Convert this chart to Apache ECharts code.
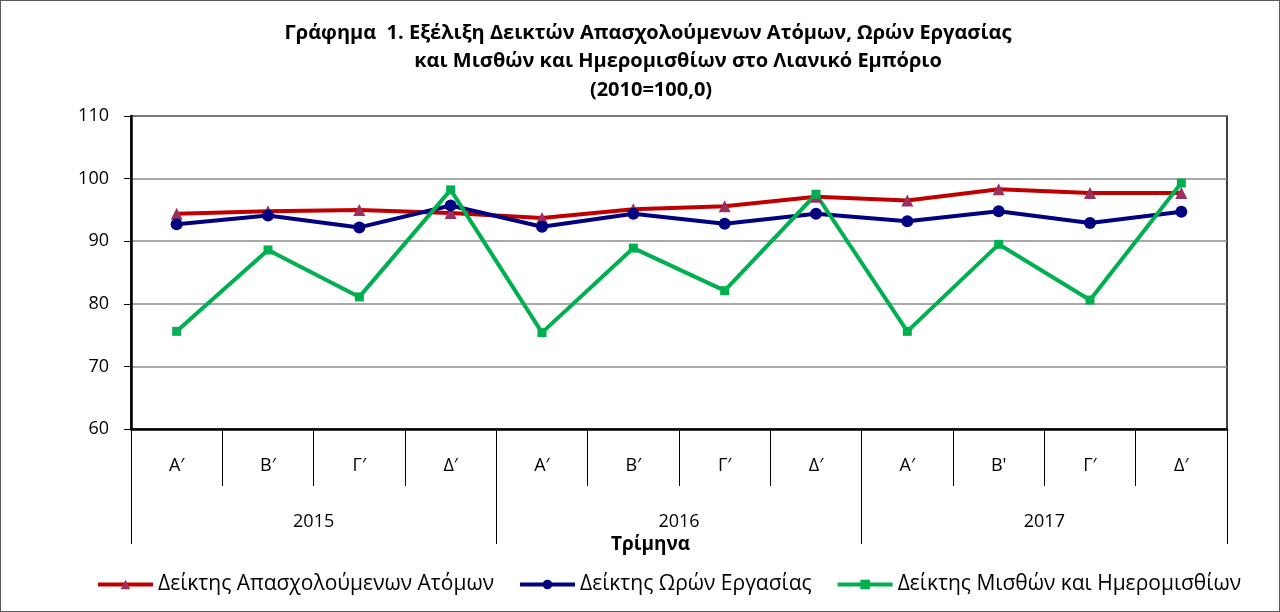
<!DOCTYPE html>
<html>
<head>
<meta charset="utf-8">
<script src="https://cdn.jsdelivr.net/npm/echarts@6/dist/echarts.min.js"></script>
<style>
  html, body { margin: 0; padding: 0; background: #fff; }
  #chart { width: 1280px; height: 612px; box-sizing: border-box; border: 1px solid #595959; }
</style>
</head>
<body>
<div id="chart"></div>
<script>
// τρίμηνα και έτη
const quarters = ['Α′', 'Β′', 'Γ′', 'Δ′', 'Α′', 'Β′', 'Γ′', 'Δ′', 'Α′', "Β'", 'Γ′', 'Δ′'];
const years = ['2015', '2016', '2017'];
const yTicks = [60, 70, 80, 90, 100, 110];

// δείκτες (2010=100,0)
const apasxoloumenoi = [94.4, 94.8, 95.0, 94.5, 93.7, 95.1, 95.6, 97.1, 96.5, 98.3, 97.7, 97.7];
const oresErgasias = [92.7, 94.1, 92.2, 95.7, 92.3, 94.4, 92.8, 94.4, 93.2, 94.8, 92.9, 94.7];
const misthoi = [75.6, 88.6, 81.1, 98.2, 75.4, 88.9, 82.1, 97.5, 75.6, 89.5, 80.6, 99.3];

const FONT = 'Open Sans, sans-serif';

const chart = echarts.init(document.getElementById('chart'));
chart.setOption({
    animation: false,
    textStyle: { fontFamily: FONT, color: '#000' },
    title: [
        { text: 'Γράφημα  1. Εξέλιξη Δεικτών Απασχολούμενων Ατόμων, Ωρών Εργασίας', left: 642, top: 17, textAlign: 'center',
          textStyle: { fontFamily: FONT, fontSize: 20, fontWeight: 'bold', color: '#000' } },
        { text: 'και Μισθών και Ημερομισθίων στο Λιανικό Εμπόριο', left: 672, top: 45, textAlign: 'center',
          textStyle: { fontFamily: FONT, fontSize: 20, fontWeight: 'bold', color: '#000' } },
        { text: '(2010=100,0)', left: 645, top: 74, textAlign: 'center',
          textStyle: { fontFamily: FONT, fontSize: 20, fontWeight: 'bold', color: '#000' } }
    ],
    legend: {
        bottom: 11,
        left: 90,
        itemWidth: 55,
        itemHeight: 12,
        itemGap: 24,
        lineStyle: { width: 4 },
        textStyle: { fontFamily: FONT, fontSize: 21, color: '#000' },
        data: ['Δείκτης Απασχολούμενων Ατόμων', 'Δείκτης Ωρών Εργασίας', 'Δείκτης Μισθών και Ημερομισθίων']
    },
    grid: {
        left: 130, right: 52, top: 115, bottom: 182,
        show: true, borderColor: '#000', borderWidth: 1.5
    },
    xAxis: [
        {
            type: 'category',
            data: quarters,
            boundaryGap: true,
            axisLine: { lineStyle: { color: '#000', width: 2.5 } },
            axisTick: { show: true, interval: 0, length: 57, lineStyle: { color: '#000', width: 1 } },
            axisLabel: { interval: 0, margin: 28, fontSize: 18, color: '#000', fontFamily: FONT }
        },
        {
            type: 'category',
            data: years,
            position: 'bottom',
            boundaryGap: true,
            axisLine: { show: false },
            axisTick: { show: true, interval: 0, length: 115, lineStyle: { color: '#000', width: 1 } },
            axisLabel: { interval: 0, margin: 84, fontSize: 18, color: '#000', fontFamily: FONT }
        }
    ],
    yAxis: {
        type: 'value',
        min: 60, max: 110, interval: 10,
        axisLine: { show: true, lineStyle: { color: '#000', width: 2.5 } },
        axisTick: { show: true, length: 7, lineStyle: { color: '#000' } },
        axisLabel: { margin: 22, fontSize: 18, color: '#000', fontFamily: FONT,
            formatter: v => yTicks.indexOf(v) >= 0 ? String(v) : '' },
        splitLine: { show: true, lineStyle: { color: '#8c8c8c', width: 1.5 } }
    },
    graphic: [
        { type: 'text', left: 610, top: 534,
          style: { text: 'Τρίμηνα', font: 'bold 19px ' + FONT, fill: '#000' } }
    ],
    series: [
        {
            name: 'Δείκτης Απασχολούμενων Ατόμων',
            type: 'line',
            data: apasxoloumenoi,
            symbol: 'triangle',
            symbolSize: 12,
            lineStyle: { color: '#c00000', width: 4 },
            itemStyle: { color: '#9b3060', borderWidth: 0 }
        },
        {
            name: 'Δείκτης Ωρών Εργασίας',
            type: 'line',
            data: oresErgasias,
            symbol: 'circle',
            symbolSize: 12,
            lineStyle: { color: '#000080', width: 4 },
            itemStyle: { color: '#000080', borderWidth: 0 }
        },
        {
            name: 'Δείκτης Μισθών και Ημερομισθίων',
            type: 'line',
            data: misthoi,
            symbol: 'rect',
            symbolSize: 9,
            lineStyle: { color: '#00b050', width: 4 },
            itemStyle: { color: '#00b050', borderWidth: 0 }
        }
    ]
});
</script>
</body>
</html>
